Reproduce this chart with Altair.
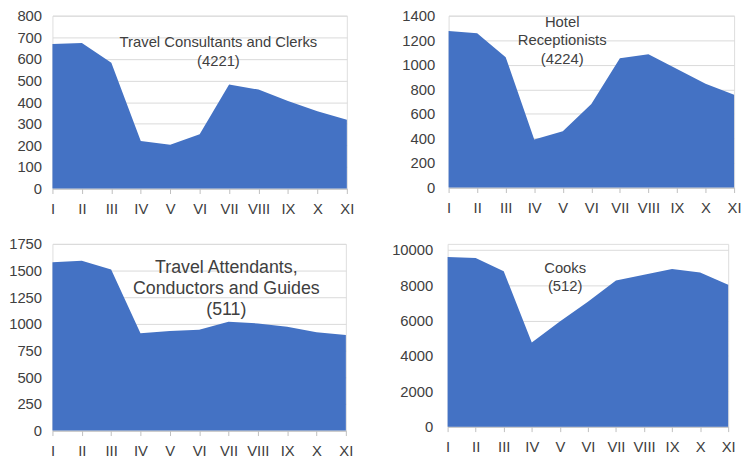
import altair as alt
import pandas as pd

months = ["I", "II", "III", "IV", "V", "VI", "VII", "VIII", "IX", "X", "XI"]
consultants = [669, 674, 582, 220, 203, 251, 482, 458, 405, 358, 318]
receptionists = [1276, 1257, 1062, 392, 459, 681, 1054, 1086, 965, 846, 757]
attendants = [1577, 1592, 1509, 912, 934, 946, 1020, 1005, 974, 921, 897]
cooks = [9591, 9535, 8792, 4758, 5948, 7063, 8271, 8587, 8922, 8717, 8030]

ticks_consultants = [0, 100, 200, 300, 400, 500, 600, 700, 800]
ticks_receptionists = [0, 200, 400, 600, 800, 1000, 1200, 1400]
ticks_attendants = [0, 250, 500, 750, 1000, 1250, 1500, 1750]
ticks_cooks = [0, 2000, 4000, 6000, 8000, 10000]

title_consultants = ["Travel Consultants and Clerks", "(4221)"]
title_receptionists = ["Hotel", "Receptionists", "(4224)"]
title_attendants = ["Travel Attendants,", "Conductors and Guides", "(511)"]
title_cooks = ["Cooks", "(512)"]

FONT = "Liberation Sans"
BLUE = "#4472C4"
TXT = "#404040"


def panel(values, ticks, lines, tx, ty, fsize, lh, w, h, ypad, ymax=None):
    df = pd.DataFrame({"m": months, "v": values})
    base = alt.Chart(df)
    top = ymax if ymax is not None else ticks[-1]
    area = base.mark_area(color=BLUE, opacity=1).encode(
        x=alt.X("m:O", sort=months, scale=alt.Scale(padding=0),
                axis=alt.Axis(title=None, labelAngle=0, grid=False,
                              domainColor="#bfbfbf", tickColor="#bfbfbf",
                              tickSize=5, labelPadding=8, labelFontSize=15,
                              labelFont=FONT, labelColor=TXT)),
        y=alt.Y("v:Q", scale=alt.Scale(domain=[ticks[0], top], nice=False),
                axis=alt.Axis(title=None, values=ticks, format="d", grid=True,
                              gridColor="#d9d9d9", domain=False, ticks=False,
                              labelPadding=ypad, labelFontSize=15, labelFont=FONT,
                              labelColor=TXT)),
    )
    text = alt.Chart(pd.DataFrame({"t": ["\n".join(lines)]})).mark_text(
        align="center", baseline="middle", fontSize=fsize, font=FONT,
        color=TXT, lineBreak="\n", lineHeight=lh,
    ).encode(text="t:N", x=alt.value(tx), y=alt.value(ty))
    return alt.layer(area, text).properties(width=w, height=h)


p1 = panel(consultants, ticks_consultants, title_consultants, 168, 27, 15, 19, 298, 175, 11)
p2 = panel(receptionists, ticks_receptionists, title_receptionists, 115, 6, 15, 19, 289, 174, 14)
p3 = panel(attendants, ticks_attendants, title_attendants, 176, 24, 18, 21.5, 297, 189, 11)
p4 = panel(cooks, ticks_cooks, title_cooks, 119, 24, 15, 19, 284, 185, 15, ymax=10335)

row1 = alt.hconcat(p1, p2, spacing=47)
row2 = alt.hconcat(p3, p4, spacing=37)
chart = alt.vconcat(row1, row2, spacing=19).properties(
    padding={"left": 0, "top": -3, "right": 0, "bottom": 0}
).configure_view(stroke=None).configure(background="white")

chart.save("out.html", embed_options={"renderer": "svg", "actions": False})
